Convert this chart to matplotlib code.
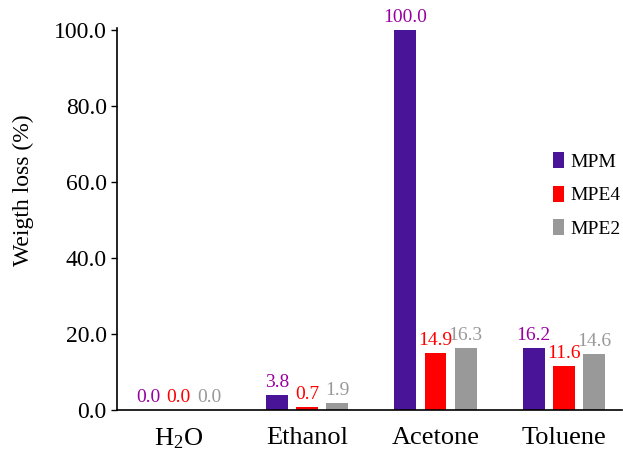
import numpy as np
import matplotlib.pyplot as plt

plt.rcParams['font.family'] = ['Liberation Serif', 'DejaVu Serif']
plt.rcParams['mathtext.fontset'] = 'custom'
plt.rcParams['mathtext.rm'] = 'Liberation Serif'

categories = [r"$\mathrm{H_2O}$", "Ethanol", "Acetone", "Toluene"]
series_names = ["MPM", "MPE4", "MPE2"]
mpm = [0.0, 3.8, 100.0, 16.2]
mpe4 = [0.0, 0.7, 14.9, 11.6]
mpe2 = [0.0, 1.9, 16.3, 14.6]

bar_colors = ["#4a1499", "#ff0000", "#999999"]
label_colors = ["#9900a0", "#ff0000", "#999999"]

fig = plt.figure(figsize=(6.23, 4.57), dpi=100)
ax = fig.add_axes([0.188, 0.103, 0.81, 0.836])

x = np.arange(len(categories))
width = 0.17
offsets = [-0.235, 0.0, 0.235]
handles = []
for vals, off, c, lc, name in zip([mpm, mpe4, mpe2], offsets, bar_colors, label_colors, series_names):
    bars = ax.bar(x + off, vals, width, color=c, label=name)
    handles.append(bars)
    for xi, v in zip(x + off, vals):
        ax.annotate(f"{v:.1f}", (xi, v), xytext=(0, 3), textcoords="offset points",
                    ha="center", va="bottom", color=lc, fontsize=14)

ax.set_xlim(-0.48, 3.45)
ax.set_ylim(0, 100.5)
ax.set_yticks([0, 20, 40, 60, 80, 100])
ax.set_yticklabels([f"{t:.1f}" for t in [0, 20, 40, 60, 80, 100]], fontsize=17)
ax.set_xticks(x)
ax.set_xticklabels(categories, fontsize=19)
ax.tick_params(axis='x', length=0, pad=12)
ax.tick_params(axis='y', direction='out', length=4, width=1)
ax.spines['top'].set_visible(False)
ax.spines['right'].set_visible(False)
ax.spines['left'].set_linewidth(1.2)
ax.spines['bottom'].set_linewidth(1.2)
ax.set_ylabel("Weigth loss (%)", fontsize=17)
ax.yaxis.set_label_coords(-0.165, 0.575)

fig.legend(handles=handles, labels=series_names, loc="upper left",
           bbox_to_anchor=(0.86, 0.705), frameon=False, fontsize=14,
           handlelength=0.55, handleheight=0.9, handletextpad=0.35, labelspacing=0.75)

fig.savefig("out.png", dpi=100)
